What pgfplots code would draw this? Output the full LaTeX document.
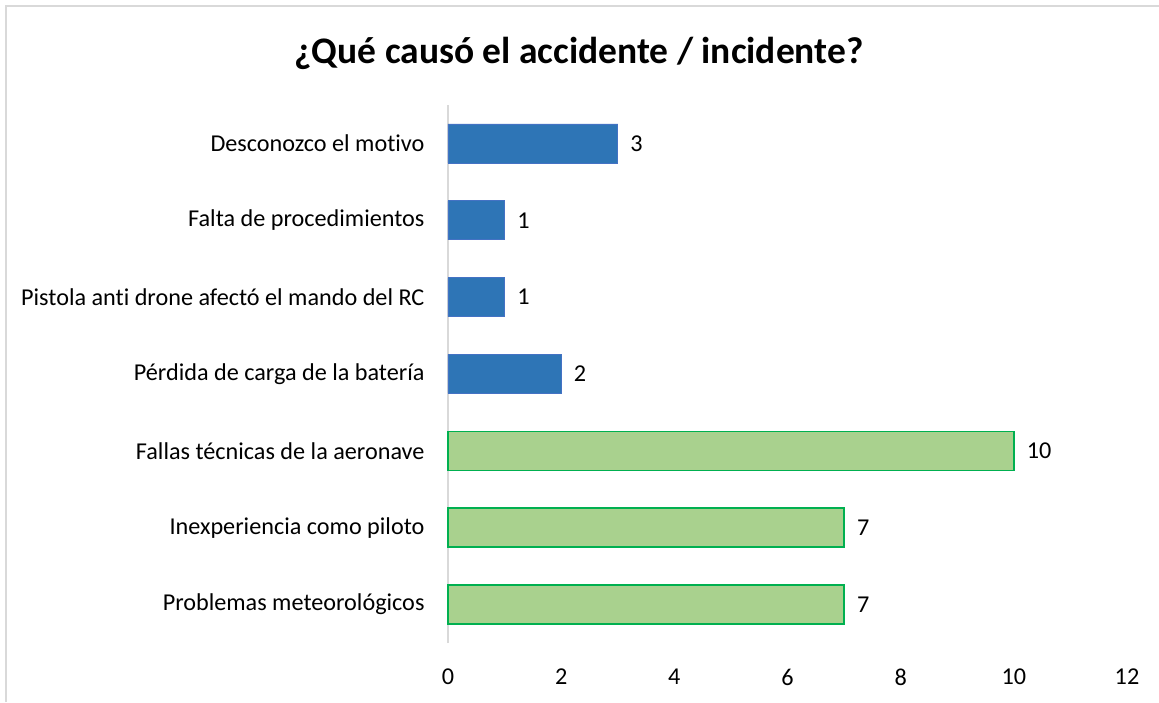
\documentclass[border=0pt]{standalone}
\usepackage{fontspec}
\setmainfont[Ligatures={NoCommon}]{Carlito}
\usepackage{pgfplots}
\pgfplotsset{compat=1.18}
\definecolor{barblue}{HTML}{2E75B6}
\definecolor{bluebord}{HTML}{4472C4}
\definecolor{bargreen}{HTML}{A9D18E}
\definecolor{greenbord}{HTML}{00B050}
\definecolor{framegray}{HTML}{D9D9D9}
\begin{document}
\begin{tikzpicture}[x=1pt,y=1pt]
\useasboundingbox (0,0) rectangle (1159,702);
\draw[framegray,line width=2pt] (6,0) -- (6,696) -- (1159,696);
\node[font=\fontsize{37.5}{42}\selectfont\bfseries] at (579,649) {¿Qué causó el accidente / incidente?};
\begin{axis}[
  at={(448pt,59pt)}, anchor=south west,
  scale only axis, width=679pt, height=538pt,
  xmin=0, xmax=12, ymin=-0.5, ymax=6.5,
  xtick={0,2,...,12}, ytick={0,...,6},
  yticklabels={Problemas meteorológicos, Inexperiencia como piloto, Fallas técnicas de la aeronave, Pérdida de carga de la batería, Pistola anti drone afectó el mando del RC, Falta de procedimientos, Desconozco el motivo},
  major tick length=0pt,
  axis x line=none, axis y line*=left,
  axis line style={framegray, line width=1.5pt},
  y axis line style={-},
  tick label style={font=\fontsize{24.2}{27}\selectfont},
  /pgf/number format/assume math mode=true,
  yticklabel style={xshift=-20pt},
  xbar, bar width=39pt, bar shift=0pt,
  clip=false,
  nodes near coords,
  every node near coord/.append style={font=\fontsize{24.2}{27}\selectfont, anchor=west, xshift=9pt},
]
\addplot[xbar, fill=bargreen, draw=greenbord, line width=1.5pt] coordinates {(7,0) (7,1) (10,2)};
\addplot[xbar, fill=barblue, draw=bluebord, line width=0.8pt] coordinates {(2,3) (1,4) (1,5) (3,6)};
\end{axis}
\foreach \v/\px in {0/448,2/561.2,4/674.3,6/787.5,8/900.7,10/1013.8,12/1127}{
  \node[font=\fontsize{24.2}{27}\selectfont] at (\px,25) {\v};
}
\end{tikzpicture}
\end{document}
